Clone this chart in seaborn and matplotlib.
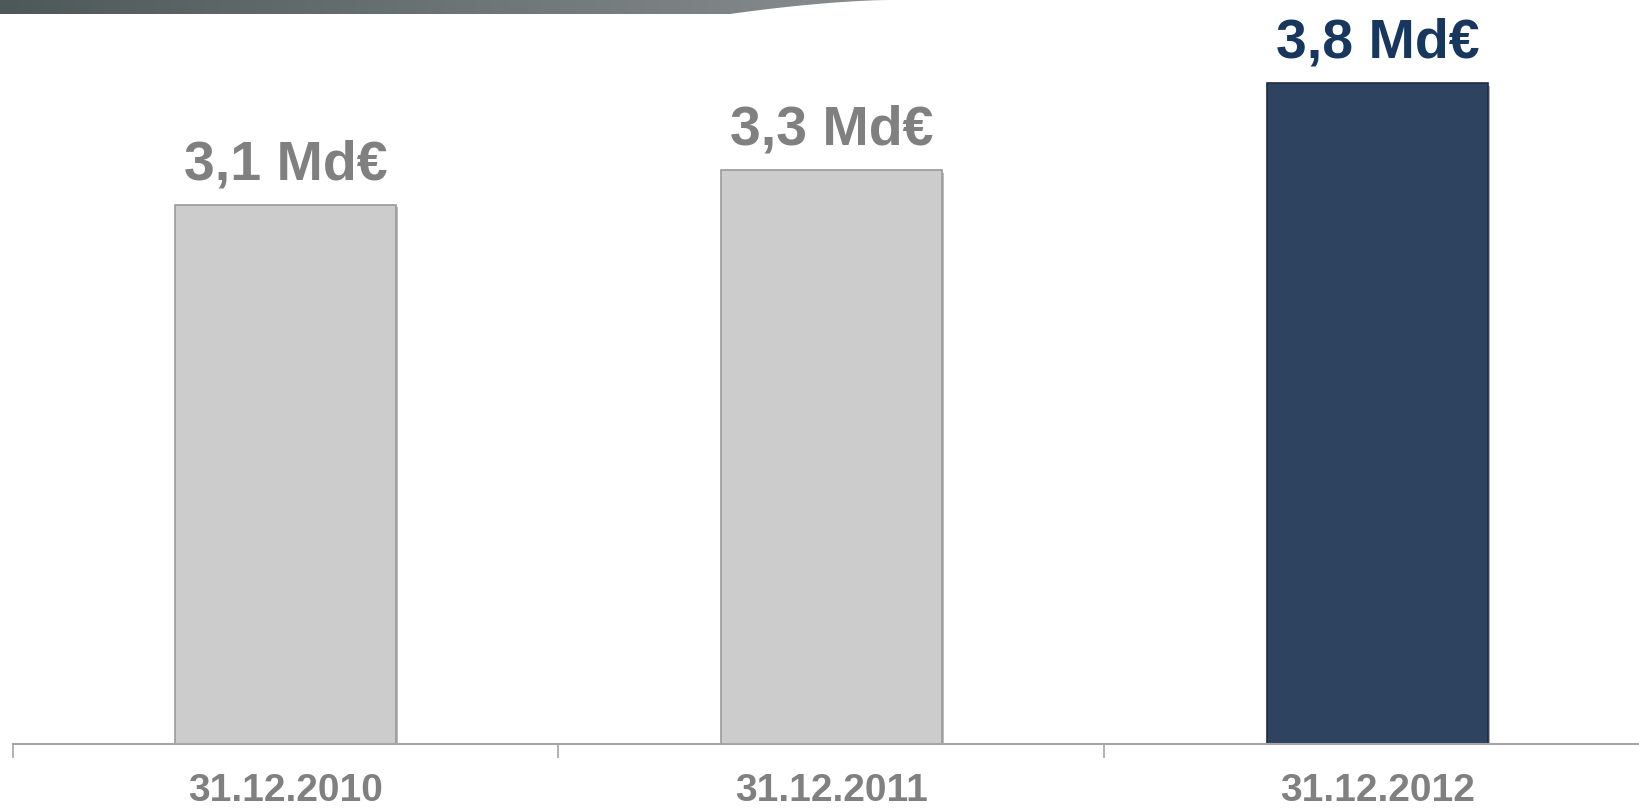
import numpy as np
import pandas as pd
import matplotlib
matplotlib.use("Agg")
import matplotlib.pyplot as plt
import matplotlib.patheffects as pe
from matplotlib.patches import Polygon
import seaborn as sns

dates = ["31.12.2010", "31.12.2011", "31.12.2012"]
values = [3.1, 3.3, 3.8]
value_labels = ["3,1 Md€", "3,3 Md€", "3,8 Md€"]
bar_colors = ["#CCCCCC", "#CCCCCC", "#2E4360"]
label_colors = ["#808080", "#808080", "#17375E"]

sns.set_style("white")
plt.rcParams["font.family"] = ["Liberation Sans", "DejaVu Sans"]

fig = plt.figure(figsize=(16.4, 8.08), dpi=100)
ax = fig.add_axes([12.5 / 1640, 64 / 808, 1638 / 1640, 4.2 * 174 / 808])

df = pd.DataFrame({"date": dates, "value": values})
sns.barplot(data=df, x="date", y="value", hue="date", palette=bar_colors,
            width=0.404, legend=False, ax=ax, saturation=1)

edge_colors = ["#9A9A9A", "#9A9A9A", "#1E2C40"]
for patch, ec in zip(ax.patches, edge_colors):
    patch.set_edgecolor(ec)
    patch.set_linewidth(1.2)
    patch.set_path_effects([pe.SimplePatchShadow(offset=(1.5, -2), alpha=0.35),
                            pe.Normal()])

for i, (v, txt, c) in enumerate(zip(values, value_labels, label_colors)):
    ax.annotate(txt, xy=(i, v), xytext=(0, 28), textcoords="offset points",
                ha="center", va="center", fontsize=40, fontweight="bold", color=c)

ax.set_xlim(-0.5, 2.5)
ax.set_ylim(0, 4.2)
ax.set_xticks([-0.5, 0.5, 1.5, 2.5])
ax.set_xticklabels([])
ax.set_xticks([0, 1, 2], minor=True)
ax.set_xticklabels(dates, minor=True)
ax.tick_params(axis="x", which="major", length=10, width=1.2, color="#A6A6A6",
               direction="out", bottom=True)
ax.tick_params(axis="x", which="minor", length=0, pad=21, labelsize=28,
               labelcolor="#808080")
for lbl in ax.get_xticklabels(minor=True):
    lbl.set_fontweight("bold")
ax.set_yticks([])
ax.set_xlabel("")
ax.set_ylabel("")
for side in ["top", "right", "left"]:
    ax.spines[side].set_visible(False)
ax.spines["bottom"].set_color("#A6A6A6")
ax.spines["bottom"].set_linewidth(1.5)

# banner gradient at the top-left (pixel coords, y measured from the top)
bax = fig.add_axes([0, 1 - 15 / 808, 900 / 1640, 15 / 808])
grad = np.linspace(0, 1, 256).reshape(1, -1)
cmap = matplotlib.colors.LinearSegmentedColormap.from_list("ban", ["#4D5958", "#8A8E90"])
im = bax.imshow(grad, aspect="auto", cmap=cmap, extent=[0, 900, 15, 0])
t = np.linspace(0, 1, 30)
curve_x = 730 + 160 * t
curve_y = 14 * (1 - t) ** 1.6
pts = [[0, 0], [0, 14]] + [[x, y] for x, y in zip(curve_x, curve_y)]
shape = Polygon(pts, closed=True, transform=bax.transData,
                facecolor="none", edgecolor="none")
bax.add_patch(shape)
im.set_clip_path(shape)
bax.set_xlim(0, 900)
bax.set_ylim(15, 0)
bax.axis("off")

fig.savefig("out.png", dpi=100)
